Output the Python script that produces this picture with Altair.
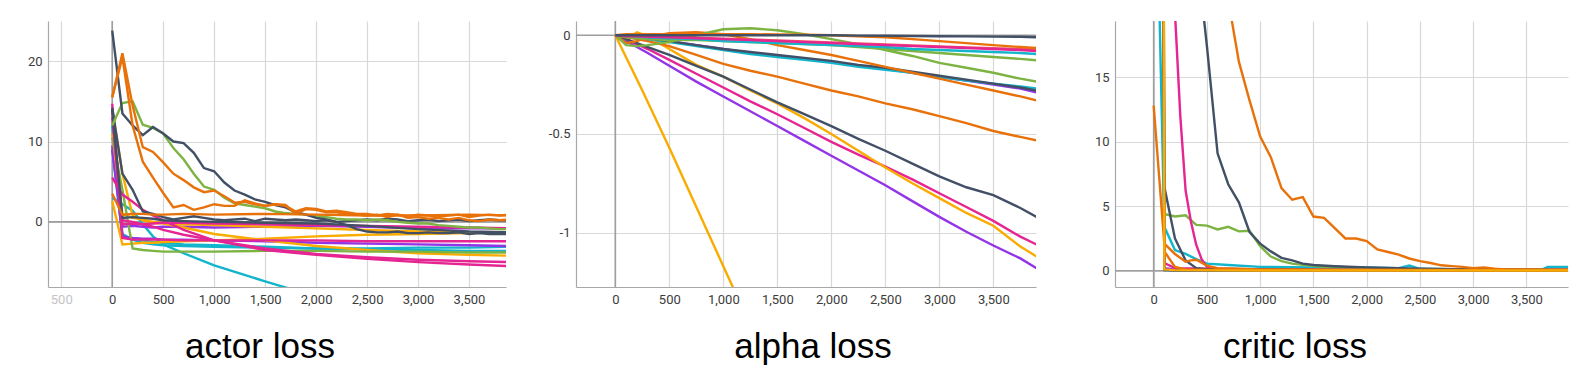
import altair as alt
import pandas as pd

# ---------------- colours ----------------
DARK = "#425066"
CYAN = "#12b5cb"
PINK = "#e52592"
ORANGE = "#e8710a"
YELLOW = "#f9ab00"
GREEN = "#7cb342"
PURPLE = "#9334e6"
RED = "#ef4f6a"

# ---------------- tick labels ----------------
actor_xticks = [-500, 0, 500, 1000, 1500, 2000, 2500, 3000, 3500]
actor_yticks = [0, 10, 20]
alpha_xticks = [0, 500, 1000, 1500, 2000, 2500, 3000, 3500]
alpha_yticks = [-1, -0.5, 0]
critic_xticks = [0, 500, 1000, 1500, 2000, 2500, 3000, 3500]
critic_yticks = [0, 5, 10, 15]

# ---------------- actor loss ----------------
steps_fine = list(range(0, 4000, 100))
steps_actor = [0, 100, 200, 300, 400, 500, 700, 1000, 1500, 2000, 2500, 3000, 3500, 3900]

actor_dark_a = [23.8, 13.5, 12.0, 10.8, 11.8, 11.0, 10.0, 9.8, 8.6, 6.7,
                6.3, 4.9, 3.9, 3.4, 2.8, 2.5, 2.1, 1.8, 1.2, 0.9,
                0.5, 0.3, 0.0, -0.4, -0.9, -1.2, -1.3, -1.3, -1.2, -1.4,
                -1.4, -1.3, -1.4, -1.4, -1.3, -1.5, -1.4, -1.5, -1.5, -1.5]
actor_orange_a1 = [15.5, 21.0, 14.5, 9.3, 8.7, 7.4, 6.0, 5.2, 4.3, 3.7,
                   3.9, 3.2, 2.4, 2.5, 2.2, 2.0, 2.2, 2.0, 1.3, 1.7,
                   1.6, 1.3, 1.4, 1.2, 1.0, 1.0, 0.8, 1.0, 0.9, 0.7,
                   0.9, 0.8, 0.7, 0.8, 0.9, 0.6, 0.8, 0.9, 0.8, 0.9]
actor_orange_a2 = [15.5, 20.5, 12.0, 7.5, 5.5, 3.6, 1.8, 2.1, 1.5, 1.8,
                   2.2, 2.0, 2.0, 2.7, 2.3, 2.0, 2.2, 2.1, 1.0, 1.6,
                   1.5, 1.2, 1.2, 1.0, 0.9, 0.8, 0.9, 0.6, 0.9, 0.5,
                   0.6, 0.4, 0.5, 0.3, 0.5, 0.2, 0.1, 0.3, 0.2, 0.3]
actor_green_a = [12.0, 14.8, 15.0, 12.1, 11.7, 11.0, 9.2, 7.8, 6.0, 4.4,
                 4.0, 3.0, 2.3, 2.1, 1.9, 1.7, 1.3, 1.1, 1.0, 0.9,
                 0.7, 0.6, 0.4, 0.3, 0.3, 0.2, 0.3, 0.2, 0.0, -0.1,
                 -0.2, -0.2, -0.4, -0.5, -0.6, -0.7, -0.7, -0.8, -0.9, -0.9]
actor_dark_b = [14.2, 6.0, 4.0, 1.3, 1.0, 0.6, 0.3, 0.5, 0.7, 0.5,
                0.3, 0.2, 0.3, 0.4, 0.1, 0.4, 0.3, 0.2, 0.3, 0.2,
                0.1, 0.2, 0.0, 0.1, 0.2, 0.3, 0.2, 0.4, 0.3, 0.1,
                0.2, 0.3, 0.1, 0.2, 0.3, 0.1, 0.2, 0.3, 0.2, 0.2]
actor_dark_c = [14.0, 0.5, 0.6, 0.5, 0.4, 0.2, 0.1, 0.0, -0.1, -0.2, -0.5, -0.9, -1.2, -1.3]
actor_orange_c = [3.5, 0.9, 1.0, 1.0, 0.9, 0.9, 1.0, 0.9, 1.0, 0.9, 0.8, 0.8, 0.9, 0.8]
actor_green_b = [10.5, 4.0, -3.3, -3.5, -3.6, -3.7, -3.7, -3.7, -3.6, -3.6, -3.7, -3.7, -3.8, -3.8]
actor_cyan_a = [3.0, 2.2, 1.4, -0.3, -1.8, -2.8, -3.9, -5.4, -7.4, -9.3, -10.5, -11.5, -12.3, -12.8]
actor_cyan_b = [12.0, -1.5, -2.2, -2.6, -2.8, -2.9, -3.0, -3.1, -3.2, -3.3, -3.3, -3.2, -3.2, -3.1]
actor_cyan_c = [9.0, -1.8, -2.2, -2.3, -2.5, -2.6, -2.8, -2.9, -3.1, -3.3, -3.4, -3.5, -3.6, -3.6]
actor_pink_a = [14.7, -2.0, -2.2, -2.2, -2.2, -2.2, -2.3, -2.3, -2.3, -2.3, -2.4, -2.4, -2.4, -2.4]
actor_pink_b = [5.5, 3.4, 2.5, 1.5, 0.8, 0.2, -1.0, -2.3, -3.5, -4.1, -4.6, -5.0, -5.3, -5.5]
actor_pink_c = [14.0, 0.2, 0.0, -0.3, -0.6, -1.0, -1.6, -2.3, -3.3, -4.0, -4.4, -4.7, -4.9, -5.0]
actor_pink_d = [13.0, -0.3, -0.2, -0.3, -0.2, -0.1, -0.1, -0.2, -0.3, -0.4, -0.5, -0.6, -0.7, -0.8]
actor_purple_a = [9.0, -0.6, -0.5, -0.6, -0.7, -0.6, -0.6, -0.7, -0.6, -0.5, -0.6, -0.8, -0.8, -0.8]
actor_purple_b = [9.5, -1.8, -2.0, -2.1, -2.1, -2.2, -2.2, -2.3, -2.4, -2.6, -2.7, -2.8, -2.9, -3.0]
actor_yellow_a = [2.6, -2.8, -2.7, -2.6, -2.6, -2.5, -2.4, -2.3, -2.1, -1.8, -1.6, -1.5, -1.4, -1.3]
actor_yellow_b = [14.0, 6.0, 0.8, 0.2, -0.1, -0.2, -0.7, -1.5, -2.3, -3.0, -3.5, -3.9, -4.1, -4.2]
actor_yellow_c = [11.0, 1.0, 0.5, 0.3, 0.0, -0.1, -0.3, -0.4, -0.6, -0.8, -1.0, -1.2, -1.3, -1.4]

# ---------------- alpha loss ----------------
steps_alpha = [0, 100, 200, 300, 500, 750, 1000, 1250, 1500, 1750,
               2000, 2250, 2500, 2750, 3000, 3250, 3500, 3750, 3900]
steps_alpha_steep = [0, 250, 500, 750, 1000, 1250]
alpha_yellow_steep = [0, -0.28, -0.57, -0.87, -1.17, -1.47]
alpha_purple_a = [0, -0.03, -0.06, -0.09, -0.155, -0.235, -0.31, -0.385, -0.46, -0.535,
                  -0.61, -0.685, -0.76, -0.84, -0.92, -0.995, -1.065, -1.13, -1.18]
alpha_pink_a = [0, -0.02, -0.045, -0.07, -0.125, -0.195, -0.265, -0.335, -0.40, -0.47,
                -0.54, -0.605, -0.665, -0.73, -0.80, -0.87, -0.94, -1.02, -1.06]
alpha_yellow_b = [0, -0.02, 0.015, -0.005, -0.07, -0.15, -0.21, -0.28, -0.345, -0.42,
                  -0.50, -0.585, -0.67, -0.75, -0.825, -0.90, -0.965, -1.07, -1.12]
alpha_dark_a = [0, -0.02, -0.04, -0.06, -0.10, -0.155, -0.21, -0.275, -0.34, -0.40,
                -0.46, -0.525, -0.585, -0.65, -0.715, -0.77, -0.81, -0.875, -0.92]
alpha_orange_a = [0, -0.01, -0.02, -0.03, -0.055, -0.10, -0.145, -0.18, -0.21, -0.245,
                  -0.28, -0.31, -0.345, -0.375, -0.41, -0.445, -0.485, -0.515, -0.532]
alpha_orange_b = [0, -0.04, -0.03, -0.01, 0.01, 0.015, 0.005, -0.02, -0.05, -0.075,
                  -0.10, -0.13, -0.16, -0.19, -0.22, -0.25, -0.28, -0.31, -0.33]
alpha_dark_b = [0, -0.005, -0.01, -0.015, -0.03, -0.05, -0.07, -0.085, -0.10, -0.115,
                -0.13, -0.15, -0.165, -0.185, -0.205, -0.225, -0.245, -0.265, -0.28]
alpha_purple_b = [0, -0.005, -0.01, -0.02, -0.03, -0.05, -0.07, -0.09, -0.105, -0.12,
                  -0.135, -0.155, -0.17, -0.19, -0.21, -0.23, -0.25, -0.27, -0.29]
alpha_cyan_a = [0, -0.005, -0.015, -0.02, -0.035, -0.055, -0.075, -0.095, -0.11, -0.125,
                -0.14, -0.16, -0.175, -0.19, -0.21, -0.23, -0.245, -0.26, -0.27]
alpha_cyan_b = [0, 0, -0.005, -0.01, -0.015, -0.02, -0.03, -0.035, -0.04, -0.045,
                -0.05, -0.055, -0.06, -0.07, -0.075, -0.08, -0.085, -0.09, -0.095]
alpha_green_a = [0, -0.05, -0.055, -0.05, -0.035, 0.0, 0.03, 0.035, 0.025, 0.005,
                 -0.02, -0.045, -0.075, -0.105, -0.14, -0.165, -0.19, -0.22, -0.235]
alpha_green_b = [0, -0.01, -0.015, -0.02, -0.025, -0.025, -0.03, -0.035, -0.04, -0.045,
                 -0.05, -0.06, -0.07, -0.08, -0.09, -0.10, -0.11, -0.12, -0.127]
alpha_dark_c = [0, 0, 0, 0, 0, 0, 0, 0, 0, 0,
                0, -0.002, -0.003, -0.004, -0.005, -0.006, -0.007, -0.008, -0.01]
alpha_orange_c = [0, 0.005, 0.005, 0.005, 0.005, 0.005, 0.005, 0.005, 0.004, 0.003,
                  0.0, -0.005, -0.01, -0.02, -0.03, -0.04, -0.05, -0.06, -0.065]
alpha_pink_b = [0, -0.005, -0.005, -0.008, -0.01, -0.015, -0.02, -0.025, -0.03, -0.035,
                -0.04, -0.045, -0.05, -0.055, -0.06, -0.065, -0.07, -0.075, -0.08]
alpha_red = [0, 0, 0, -0.003, -0.007, -0.012, -0.017, -0.022, -0.027, -0.032,
             -0.037, -0.042, -0.047, -0.052, -0.057, -0.062, -0.066, -0.07, -0.072]

# ---------------- critic loss ----------------
critic_orange_big = [80, 70, 60, 50, 40, 32, 26, 21, 16.2, 13.2,
                     10.4, 8.8, 6.4, 5.5, 5.7, 4.2, 4.1, 3.3, 2.5, 2.5,
                     2.3, 1.65, 1.45, 1.25, 0.95, 0.75, 0.6, 0.42, 0.36, 0.3,
                     0.2, 0.26, 0.15, 0.1, 0.1, 0.1, 0.1, 0.08, 0.08, 0.08]
steps_critic_dark = [0, 200, 400, 500, 600, 700, 800, 900, 1000, 1100,
                     1200, 1300, 1400, 1500, 1700, 2000, 2500, 3000, 3500, 3900]
critic_dark_big = [60, 40, 25, 17.4, 9.1, 6.7, 5.3, 3.0, 2.1, 1.5,
                   1.0, 0.8, 0.55, 0.45, 0.35, 0.25, 0.15, 0.1, 0.08, 0.08]
steps_critic_pink = [0, 100, 200, 250, 300, 350, 400, 450, 500, 600, 1000, 2000, 3000, 3900]
critic_pink_big = [60, 40, 20, 12, 6.2, 3.8, 2.0, 0.9, 0.3, 0.15, 0.1, 0.05, 0.05, 0.05]
steps_critic_green = [0, 100, 200, 300, 400, 500, 600, 700, 800, 900,
                      1000, 1100, 1200, 1300, 1400, 1500, 1600, 1700, 1800, 2000,
                      2500, 3000, 3500, 3900]
critic_green = [300, 4.4, 4.2, 4.3, 3.55, 3.5, 3.2, 3.4, 3.05, 3.1,
                1.9, 1.1, 0.75, 0.55, 0.45, 0.38, 0.3, 0.35, 0.28, 0.2,
                0.12, 0.08, 0.06, 0.05]
steps_critic_cyan = [0, 100, 200, 300, 400, 500, 700, 1000, 1500, 2000,
                     2300, 2400, 2500, 3000, 3500, 3650, 3700, 3900]
critic_cyan = [40, 3.4, 1.6, 1.3, 0.9, 0.55, 0.45, 0.3, 0.25, 0.25,
               0.2, 0.4, 0.15, 0.1, 0.1, 0.1, 0.3, 0.3]
steps_critic_orange_early = [0, 100, 200, 300, 350, 400, 500, 600, 800, 1000, 2000, 3000, 3900]
critic_orange_early = [12.8, 2.1, 1.3, 0.7, 0.8, 0.85, 0.4, 0.2, 0.15, 0.1, 0.08, 0.06, 0.05]
steps_critic_dark_b = [0, 100, 200, 300, 400, 500, 1000, 2000, 3000, 3900]
critic_dark_b = [300, 6.5, 2.5, 0.8, 0.2, 0.12, 0.1, 0.05, 0.03, 0.03]
steps_critic_flat = [0, 100, 200, 1000, 3900]
critic_yellow = [400, 0.1, 0.05, 0.02, 0.02]
critic_pink_b = [300, 0.6, 0.2, 0.08, 0.08]
critic_purple = [300, 0.2, 0.1, 0.05, 0.05]
critic_dark_c = [200, 0.05, 0.02, 0.02, 0.02]
steps_critic_orange_c = [0, 100, 200, 300, 1000, 3900]
critic_orange_c = [400, 1.5, 0.3, 0.1, 0.05, 0.05]

actor_series = [
    ("cyan_a", CYAN, steps_actor, actor_cyan_a),
    ("cyan_b", CYAN, steps_actor, actor_cyan_b),
    ("cyan_c", CYAN, steps_actor, actor_cyan_c),
    ("purple_a", PURPLE, steps_actor, actor_purple_a),
    ("purple_b", PURPLE, steps_actor, actor_purple_b),
    ("yellow_a", YELLOW, steps_actor, actor_yellow_a),
    ("yellow_b", YELLOW, steps_actor, actor_yellow_b),
    ("yellow_c", YELLOW, steps_actor, actor_yellow_c),
    ("green_b", GREEN, steps_actor, actor_green_b),
    ("pink_a", PINK, steps_actor, actor_pink_a),
    ("pink_b", PINK, steps_actor, actor_pink_b),
    ("pink_c", PINK, steps_actor, actor_pink_c),
    ("pink_d", PINK, steps_actor, actor_pink_d),
    ("dark_c", DARK, steps_actor, actor_dark_c),
    ("dark_b", DARK, steps_fine, actor_dark_b),
    ("green_a", GREEN, steps_fine, actor_green_a),
    ("dark_a", DARK, steps_fine, actor_dark_a),
    ("orange_c", ORANGE, steps_actor, actor_orange_c),
    ("orange_a2", ORANGE, steps_fine, actor_orange_a2),
    ("orange_a1", ORANGE, steps_fine, actor_orange_a1),
]
alpha_series = [
    ("yellow_steep", YELLOW, steps_alpha_steep, alpha_yellow_steep),
    ("purple_a", PURPLE, steps_alpha, alpha_purple_a),
    ("pink_a", PINK, steps_alpha, alpha_pink_a),
    ("yellow_b", YELLOW, steps_alpha, alpha_yellow_b),
    ("dark_a", DARK, steps_alpha, alpha_dark_a),
    ("orange_a", ORANGE, steps_alpha, alpha_orange_a),
    ("purple_b", PURPLE, steps_alpha, alpha_purple_b),
    ("cyan_a", CYAN, steps_alpha, alpha_cyan_a),
    ("dark_b", DARK, steps_alpha, alpha_dark_b),
    ("orange_b", ORANGE, steps_alpha, alpha_orange_b),
    ("green_a", GREEN, steps_alpha, alpha_green_a),
    ("green_b", GREEN, steps_alpha, alpha_green_b),
    ("cyan_b", CYAN, steps_alpha, alpha_cyan_b),
    ("red", RED, steps_alpha, alpha_red),
    ("pink_b", PINK, steps_alpha, alpha_pink_b),
    ("orange_c", ORANGE, steps_alpha, alpha_orange_c),
    ("dark_c", DARK, steps_alpha, alpha_dark_c),
]
critic_series = [
    ("purple", PURPLE, steps_critic_flat, critic_purple),
    ("pink_b", PINK, steps_critic_flat, critic_pink_b),
    ("dark_c", DARK, steps_critic_flat, critic_dark_c),
    ("cyan", CYAN, steps_critic_cyan, critic_cyan),
    ("green", GREEN, steps_critic_green, critic_green),
    ("pink_big", PINK, steps_critic_pink, critic_pink_big),
    ("dark_b", DARK, steps_critic_dark_b, critic_dark_b),
    ("dark_big", DARK, steps_critic_dark, critic_dark_big),
    ("orange_big", ORANGE, steps_fine, critic_orange_big),
    ("orange_early", ORANGE, steps_critic_orange_early, critic_orange_early),
    ("orange_c", ORANGE, steps_critic_orange_c, critic_orange_c),
    ("yellow", YELLOW, steps_critic_flat, critic_yellow),
]


def panel(series, xdom, ydom, xticks, yticks, width, title, title_x):
    rows = []
    for i, (name, color, steps, vals) in enumerate(series):
        for s, v in zip(steps, vals):
            rows.append({"run": f"{i:02d}_{name}", "color": color, "step": s, "value": v})
    df = pd.DataFrame(rows)

    xscale = alt.Scale(domain=xdom, nice=False, zero=False)
    yscale = alt.Scale(domain=ydom, nice=False, zero=False)
    xaxis = alt.Axis(values=xticks, title=None,
                     labelExpr="format(abs(datum.value), ',')",
                     labelColor=alt.condition("datum.value < 0", alt.value("#c4c4c4"), alt.value("#3c3c3c")))
    yaxis = alt.Axis(values=yticks, title=None, labelExpr="'' + datum.value")

    lines = alt.Chart(df).mark_line(strokeWidth=2.4, clip=True).encode(
        x=alt.X("step:Q", scale=xscale, axis=xaxis),
        y=alt.Y("value:Q", scale=yscale, axis=yaxis),
        detail="run:N",
        color=alt.Color("color:N", scale=None),
    )
    zero_h = alt.Chart(pd.DataFrame({"a": [0]})).mark_rule(color="#9e9e9e", strokeWidth=1.6).encode(
        y=alt.datum(0))
    zero_v = alt.Chart(pd.DataFrame({"a": [0]})).mark_rule(color="#9e9e9e", strokeWidth=1.6).encode(
        x=alt.datum(0))
    label = alt.Chart(pd.DataFrame({"t": [title]})).mark_text(
        font="Liberation Sans", fontSize=35, color="#000000", baseline="alphabetic", align="center"
    ).encode(text="t:N", x=alt.value(title_x), y=alt.value(337))
    return alt.layer(zero_h, zero_v, lines, label).properties(width=width, height=266)


p1 = panel(actor_series, [-630, 3863], [-8.1, 25], actor_xticks, actor_yticks, 458, "actor loss", 212)
p2 = panel(alpha_series, [-364, 3895], [-1.275, 0.072], alpha_xticks, alpha_yticks, 460, "alpha loss", 237)
p3 = panel(critic_series, [-363, 3890], [-1.26, 19.35], critic_xticks, critic_yticks, 453, "critic loss", 180)

chart = alt.hconcat(
    p1,
    alt.hconcat(p2, p3, spacing=79, bounds="flush"),
    spacing=70,
    bounds="flush",
).configure(
    padding={"left": 19, "top": 12, "right": 0, "bottom": 0},
    background="white",
).configure_view(stroke=None).configure_axis(
    labelFont="Roboto",
    labelFontSize=13,
    labelColor="#3c3c3c",
    labelPadding=6,
    ticks=False,
    grid=True,
    gridColor="#d8d8d8",
    gridWidth=1.2,
    domainColor="#a8a8a8",
    domainWidth=1.2,
)

chart.save("out.html", embed_options={"renderer": "svg", "actions": False})
